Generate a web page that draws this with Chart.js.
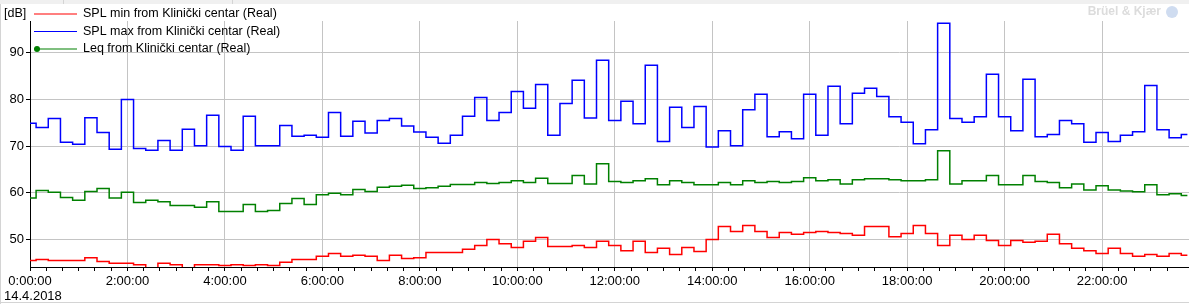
<!DOCTYPE html>
<html>
<head>
<meta charset="utf-8">
<script src="https://cdn.jsdelivr.net/npm/chart.js@4/dist/chart.umd.min.js"></script>
<style>
  html, body { margin: 0; padding: 0; background: #fff; }
  canvas { display: block; }
</style>
</head>
<body>
<canvas id="spl-chart" width="1189" height="304"></canvas>
<script>
// 15 minute values, 14.4.2018, from 0:00
const stepMinutes = 15;
const seriesNames = [
    'SPL min from Klinički centar (Real)',
    'SPL max from Klinički centar (Real)',
    'Leq from Klinički centar (Real)'
];
const splMin = [
    45.5, 45.7, 45.5, 45.5, 45.5, 46.1, 45.3, 44.9, 44.9, 44.6, 43.8, 44.9,
    44.6, 43.8, 44.6, 44.6, 44.4, 44.6, 44.4, 44.6, 44.4, 45.1, 45.7, 45.7,
    46.4, 47.0, 46.4, 46.6, 46.4, 45.5, 46.6, 45.9, 46.1, 47.2, 47.2, 47.2,
    47.9, 48.7, 50.0, 49.1, 48.3, 49.6, 50.4, 48.5, 48.5, 48.7, 48.3, 49.6,
    48.7, 47.6, 49.6, 47.2, 48.1, 46.8, 48.3, 47.4, 50.0, 52.8, 51.7, 53.0,
    51.7, 50.4, 51.5, 51.1, 51.5, 51.7, 51.5, 51.3, 50.9, 52.8, 52.8, 50.6,
    51.3, 53.0, 51.3, 48.7, 50.9, 50.0, 50.9, 49.8, 48.7, 49.8, 49.4, 49.6,
    51.1, 49.1, 48.1, 47.6, 47.0, 48.1, 47.0, 46.4, 46.8, 46.4, 47.0, 46.6
];
const splMax = [
    74.9, 74.0, 75.9, 70.8, 70.4, 76.1, 72.9, 69.3, 80.0, 69.5, 69.1, 71.2,
    69.1, 73.6, 70.1, 76.6, 69.9, 69.1, 76.4, 70.1, 70.1, 74.4, 72.1, 72.3,
    71.9, 77.2, 72.1, 75.3, 72.8, 75.5, 75.9, 74.3, 73.0, 71.9, 70.6, 72.3,
    76.4, 80.4, 75.5, 77.2, 81.7, 78.1, 83.2, 72.3, 79.1, 84.1, 76.0, 88.4,
    75.5, 79.6, 74.8, 87.3, 71.0, 78.3, 74.0, 78.5, 69.8, 73.3, 70.1, 77.8,
    81.1, 72.0, 73.1, 71.6, 81.1, 72.3, 82.8, 74.8, 81.3, 82.4, 80.6, 76.3,
    75.1, 70.5, 73.5, 96.3, 75.9, 75.1, 76.3, 85.4, 76.3, 73.3, 84.3, 72.0,
    72.5, 75.5, 74.8, 70.8, 72.9, 71.0, 72.3, 73.1, 83.0, 73.5, 71.8, 72.5
];
const leq = [
    58.9, 60.5, 60.1, 59.0, 58.4, 60.3, 60.9, 58.9, 60.1, 57.9, 58.4, 58.1,
    57.3, 57.3, 56.9, 58.1, 56.0, 56.0, 57.5, 56.0, 56.2, 57.7, 58.8, 57.5,
    59.6, 59.9, 59.6, 60.7, 60.3, 61.2, 61.4, 61.6, 60.9, 61.1, 61.4, 61.8,
    61.8, 62.2, 62.0, 62.2, 62.6, 62.2, 63.1, 62.0, 62.0, 63.7, 61.9, 66.2,
    62.4, 62.2, 62.6, 63.0, 61.7, 62.6, 62.2, 61.7, 61.7, 62.2, 61.7, 62.6,
    62.2, 62.4, 62.2, 62.4, 63.2, 62.6, 62.8, 61.9, 62.8, 63.0, 63.0, 62.8,
    62.6, 62.6, 62.8, 69.0, 61.9, 62.6, 62.6, 63.7, 61.7, 61.7, 63.7, 62.4,
    62.2, 61.1, 61.9, 60.6, 61.5, 60.6, 60.4, 60.2, 61.7, 59.6, 59.8, 59.4
];
const seriesColors = ['#ff0000', '#0000ff', '#008000'];
const dateLabel = '14.4.2018';
const unitLabel = '[dB]';
const yTicks = [50, 60, 70, 80, 90];

const FAMILY = '"Liberation Sans", Arial, sans-serif';
const TICK_FONT = { family: FAMILY, size: 13 };
const LEGEND_PX = 12.5;

function toPoints(values) {
    return values.map((v, i) => ({ x: i * stepMinutes, y: v }));
}

function fmtTime(min) {
    const h = Math.floor(min / 60);
    const m = min % 60;
    return h + ':' + String(m).padStart(2, '0') + ':00';
}

// frame, legend, watermark
const decorations = {
    id: 'decorations',
    beforeDraw(chart) {
        const c = chart.ctx;
        const w = chart.width, h = chart.height;
        c.save();
        c.fillStyle = '#fff';
        c.fillRect(0, 0, w, h);
        c.fillStyle = '#f0f0f0';
        c.fillRect(0, 0, w, 4);
        c.fillStyle = '#d4d4d4';
        c.fillRect(0, 4, 1, h);
        c.fillRect(0, h - 2, w, 1);
        c.fillRect(63, 0, 1, 4);
        c.fillRect(232, 0, 1, 4);
        c.restore();
    },
    afterDraw(chart) {
        const c = chart.ctx;
        const area = chart.chartArea;
        c.save();
        c.font = LEGEND_PX + 'px ' + FAMILY;
        c.textBaseline = 'middle';

        // unit label
        c.fillStyle = '#000';
        c.fillText(unitLabel, 4, 14);

        // legend
        const rowH = 17.5;
        const x0 = area.left + 4;
        chart.data.datasets.forEach((ds, i) => {
            const y = 14 + i * rowH;
            c.strokeStyle = ds.borderColor;
            c.lineWidth = 1.2;
            c.beginPath();
            c.moveTo(x0, y);
            c.lineTo(x0 + 43, y);
            c.stroke();
            if (i === 2) {
                c.fillStyle = ds.borderColor;
                c.beginPath();
                c.arc(x0 + 3, y, 3, 0, Math.PI * 2);
                c.fill();
            }
            c.fillStyle = '#000';
            c.fillText(ds.label, x0 + 49, y);
        });

        // date under the first time label
        c.font = TICK_FONT.size + 'px ' + FAMILY;
        c.fillText(dateLabel, 4, 296);

        // watermark
        c.font = 'bold 12px ' + FAMILY;
        c.fillStyle = '#dcdcdc';
        c.textAlign = 'right';
        c.fillText('Brüel & Kjær', chart.width - 28, 12);
        c.fillStyle = '#cfdcf0';
        c.beginPath();
        c.arc(chart.width - 17, 12, 6, 0, Math.PI * 2);
        c.fill();
        c.restore();
    }
};

new Chart(document.getElementById('spl-chart'), {
    type: 'line',
    data: {
        datasets: [splMin, splMax, leq].map((vals, i) => ({
            label: seriesNames[i],
            data: toPoints(vals),
            borderColor: seriesColors[i],
            backgroundColor: seriesColors[i],
            borderWidth: 1.5,
            pointRadius: 0,
            stepped: 'middle',
            fill: false
        }))
    },
    options: {
        responsive: false,
        animation: false,
        layout: { padding: { top: 21, left: 0, right: 0, bottom: 0 } },
        plugins: { legend: { display: false }, tooltip: { enabled: false } },
        scales: {
            x: {
                type: 'linear',
                min: 0,
                max: 1427,
                afterBuildTicks: s => { s.ticks = s.ticks.filter(t => t.value % 20 === 0); },
                afterFit: s => { s.height = 37; },
                ticks: {
                    stepSize: 20,
                    autoSkip: false,
                    maxRotation: 0,
                    padding: 3,
                    color: '#000',
                    font: TICK_FONT,
                    callback: v => (v % 120 === 0 ? fmtTime(v) : '')
                },
                grid: {
                    color: ctx => (ctx.tick && ctx.tick.value % 120 === 0 ? '#c4c4c4' : 'rgba(0,0,0,0)'),
                    tickColor: '#000',
                    tickLength: 4,
                    lineWidth: 1
                },
                border: { color: '#000', width: 1 }
            },
            y: {
                min: 44.1,
                max: 96.8,
                afterBuildTicks: s => { s.ticks = yTicks.map(v => ({ value: v })); },
                afterFit: s => { s.width = 30; },
                ticks: {
                    padding: 2,
                    color: '#000',
                    font: TICK_FONT
                },
                grid: {
                    color: '#c4c4c4',
                    tickColor: '#000',
                    tickLength: 4,
                    lineWidth: 1
                },
                border: { color: '#000', width: 1 }
            }
        }
    },
    plugins: [decorations]
});
</script>
</body>
</html>
